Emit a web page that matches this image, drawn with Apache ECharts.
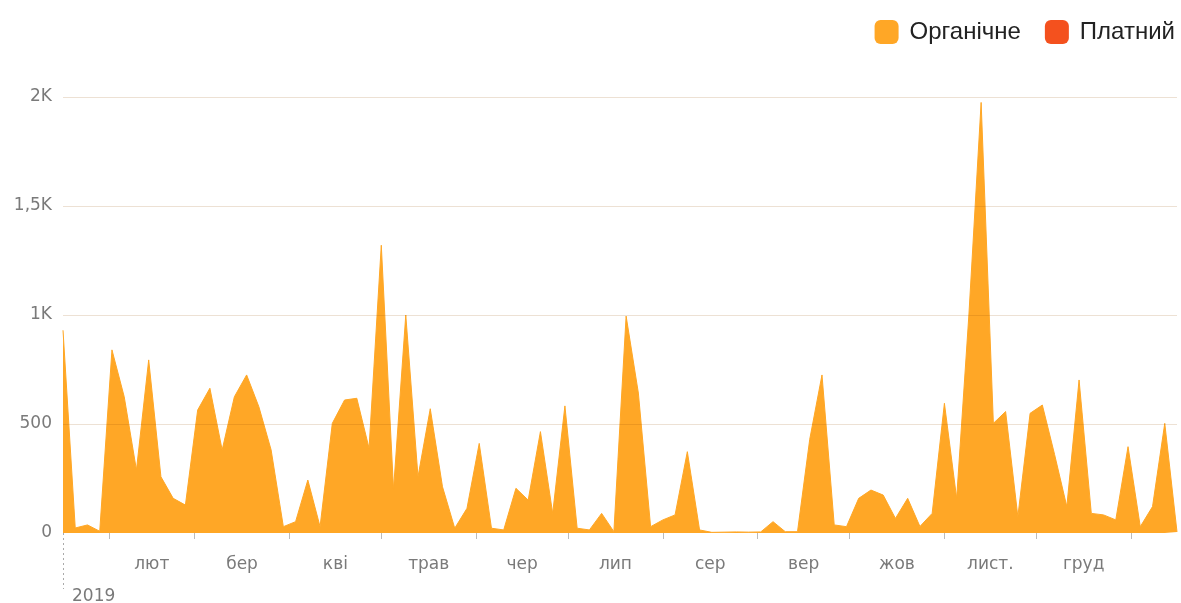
<!DOCTYPE html>
<html>
<head>
<meta charset="utf-8">
<script src="https://cdn.jsdelivr.net/npm/echarts@6/dist/echarts.min.js"></script>
<style>
html,body{margin:0;padding:0;background:#fff;}
#chart{width:1181px;height:603px;}
</style>
</head>
<body>
<div id="chart"></div>
<script>
// ---- data ----
const seriesNames = ['Органічне', 'Платний'];
const startDate = [2019, 0, 17];   // first data point (year, monthIndex, day)
const stepDays = 4;                // one point every 4 days
const organic = [
  930, 23, 37, 8, 840, 625, 289, 794, 258, 159,
  128, 564, 664, 381, 625, 725, 579, 381, 29, 52,
  243, 29, 503, 610, 618, 389, 1320, 200, 1000, 258,
  570, 212, 22, 113, 411, 22, 14, 205, 151, 465,
  90, 583, 22, 14, 90, 6, 995, 642, 29, 60,
  83, 373, 14, 3, 4, 5, 4, 5, 52, 6,
  6, 430, 725, 37, 29, 159, 197, 174, 67, 159,
  30, 90, 595, 159, 1000, 1975, 503, 557, 75, 549,
  587, 360, 121, 702, 90, 83, 60, 396, 29, 121,
  503, 5
];
const paid = [
  0,0,0,0,0,0,0,0,0,0, 0,0,0,0,0,0,0,0,0,0,
  0,0,0,0,0,0,0,0,0,0, 0,0,0,0,0,0,0,0,0,0,
  0,0,0,0,0,0,0,0,0,0, 0,0,0,0,0,0,0,0,0,0,
  0,0,0,0,0,0,0,0,0,0, 0,0,0,0,0,0,0,0,0,0,
  0,0,0,0,0,0,0,0,0,0, 0,0
];
const monthNames = ['січ','лют','бер','кві','трав','чер','лип','сер','вер','жов','лист.','груд'];
const yearLabel = '2019';
const yTicks = [0, 500, 1000, 1500, 2000];
const yTickLabels = ['0', '500', '1K', '1,5K', '2K'];

// ---- build (x measured in days since the first point) ----
const DAY = 86400000;
const t0 = Date.UTC(startDate[0], startDate[1], startDate[2]);
const toPairs = arr => arr.map((v, i) => [i * stepDays, v]);
const dEnd = (organic.length - 1) * stepDays;

const monthStarts = [];   // {day, month}
for (let m = 1; m <= 13; m++) {
  const d = (Date.UTC(2019, m, 1) - t0) / DAY;
  if (d > 0 && d <= dEnd + 40) monthStarts.push({day: d, month: m % 12});
}
const tickVals = monthStarts.filter(o => o.day < dEnd).map(o => o.day);
const labelVals = [];
const labelMonth = {};
for (let i = 0; i < monthStarts.length - 1; i++) {
  const mid = (monthStarts[i].day + monthStarts[i + 1].day) / 2;
  labelVals.push(mid);
  labelMonth[mid] = monthStarts[i].month;
}

const font = "'Liberation Sans', Arial, sans-serif";
const axisFont = "'DejaVu Sans', Verdana, sans-serif";
const labelColor = '#7a7a7a';
const chart = echarts.init(document.getElementById('chart'), null, {renderer: 'canvas'});
chart.setOption({
  animation: false,
  backgroundColor: '#fff',
  legend: {
    right: 1, top: 15,
    itemWidth: 24, itemHeight: 24, itemGap: 24,
    icon: 'roundRect',
    textStyle: {fontFamily: font, fontSize: 24, color: '#222', padding: [0, 0, 0, 6]},
    data: seriesNames
  },
  grid: {left: 63, right: 4, top: 97, bottom: 70, containLabel: false, outerBoundsMode: 'none'},
  xAxis: [{
    type: 'value',
    min: 0, max: dEnd,
    axisLine: {show: false},
    axisTick: {show: true, customValues: tickVals, length: 6, lineStyle: {color: '#bbb'}},
    axisLabel: {
      customValues: labelVals,
      margin: 23,
      fontFamily: axisFont, fontSize: 17, color: labelColor,
      formatter: v => monthNames[labelMonth[v]]
    },
    splitLine: {show: false}
  }, {
    type: 'value',
    position: 'bottom',
    min: 0, max: dEnd,
    axisLine: {show: false},
    axisTick: {show: true, customValues: [0], length: 56, lineStyle: {color: '#aaa', type: [2, 3]}},
    axisLabel: {
      customValues: [0], margin: 55, align: 'left', padding: [0, 0, 0, 9],
      fontFamily: axisFont, fontSize: 17, color: labelColor,
      formatter: () => yearLabel
    },
    splitLine: {show: false}
  }],
  yAxis: {
    type: 'value',
    min: 0, max: 2000, interval: 500,
    axisLine: {show: false},
    axisTick: {show: false},
    axisLabel: {
      margin: 11, fontFamily: axisFont, fontSize: 17, color: labelColor,
      padding: [8, 0, 0, 0],
      formatter: v => { const k = yTicks.indexOf(v); return k >= 0 ? yTickLabels[k] : String(v); }
    },
    splitLine: {show: false}
  },
  series: [{
    name: seriesNames[0],
    type: 'line',
    data: toPairs(organic),
    showSymbol: false,
    symbol: 'none',
    color: '#FFA726',
    lineStyle: {width: 1, color: '#FFA726'},
    areaStyle: {color: '#FFA726', opacity: 1},
    z: 2,
    markLine: {
      silent: true,
      symbol: ['none', 'none'],
      label: {show: false},
      lineStyle: {color: 'rgba(150,75,0,0.17)', width: 1, type: 'solid'},
      emphasis: {disabled: true},
      data: yTicks.filter(v => v > 0).map(v => ({yAxis: v}))
    }
  }, {
    name: seriesNames[1],
    type: 'line',
    data: toPairs(paid),
    showSymbol: false,
    symbol: 'none',
    color: '#F4511E',
    lineStyle: {width: 0, color: '#F4511E'},
    areaStyle: {color: '#F4511E', opacity: 1},
    z: 1
  }]
});
</script>
</body>
</html>
